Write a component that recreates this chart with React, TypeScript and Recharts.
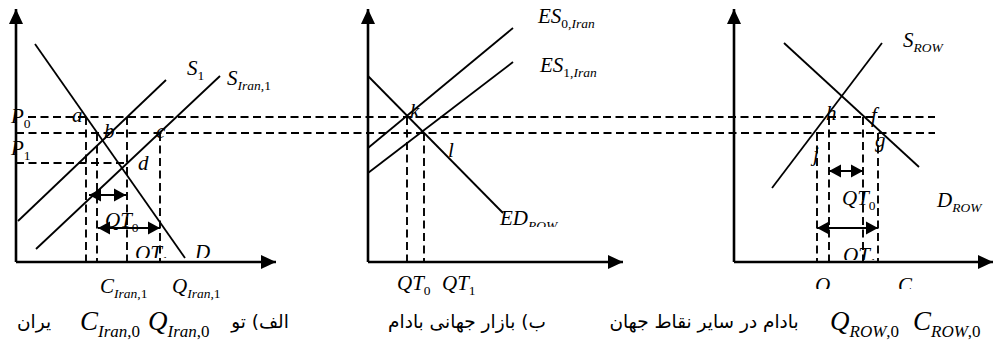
import React from 'react'
import { ComposedChart, Line, XAxis, YAxis, ReferenceDot } from 'recharts'

type Pt = { q: number; p: number }

// price levels shared by the three markets
const P0 = 72.5
const P1 = 64.5
const PD = 49.5

// a) Iran: demand and the two supply curves
const demandIran: Pt[] = [{ q: 9.5, p: 109 }, { q: 84.5, p: 2 }]
const supplyIran0: Pt[] = [{ q: 1, p: 20.5 }, { q: 75, p: 91 }]
const supplyIran1: Pt[] = [{ q: 10, p: 6.5 }, { q: 102, p: 93 }]
// C_Iran,0  C_Iran,1  Q_Iran,0  Q_Iran,1
const iranDrops: Pt[] = [{ q: 35, p: P0 }, { q: 40.5, p: P1 }, { q: 55.5, p: P0 }, { q: 72, p: P1 }]
const iranTrade = [{ from: 36.5, to: 55, p: 33.5 }, { from: 41, to: 72, p: 17 }]

// b) world market: Iran's excess supply vs. rest-of-world excess demand
const exSupply0: Pt[] = [{ q: 0, p: 57 }, { q: 72.5, p: 117 }]
const exSupply1: Pt[] = [{ q: 0, p: 44.5 }, { q: 72.5, p: 100 }]
const exDemandRow: Pt[] = [{ q: 0, p: 93 }, { q: 67.5, p: 24.5 }]
const worldDrops: Pt[] = [{ q: 19.5, p: P0 }, { q: 28, p: P1 }]

// c) rest of world
const demandRow: Pt[] = [{ q: 25, p: 109.5 }, { q: 92.5, p: 47.5 }]
const supplyRow: Pt[] = [{ q: 19, p: 37 }, { q: 74, p: 109.5 }]
const rowDrops: Pt[] = [{ q: 41.5, p: P1 }, { q: 47.5, p: P0 }, { q: 64.5, p: P0 }, { q: 72, p: P1 }]
const rowTrade = [{ from: 47.5, to: 64.5, p: 45.5 }, { from: 41.5, to: 72, p: 17 }]

const AXIS_TOP = 126.5
const axisEnds = { a: 130, b: 127.5, c: 129.5 }
const LINE_END = 459.5 // right end of the price lines, in panel-a units

const SERIF = "'Liberation Serif', 'Times New Roman', serif"
const FA = "'DejaVu Sans', sans-serif"

type Dir = 'up' | 'left' | 'right' | null

const triangle = (x: number, y: number, dir: Dir, len: number, half: number) => {
  if (dir === 'up') return `${x},${y} ${x - half},${y + len} ${x + half},${y + len}`
  if (dir === 'right') return `${x},${y} ${x - len},${y - half} ${x - len},${y + half}`
  return `${x},${y} ${x + len},${y - half} ${x + len},${y + half}`
}

const arrowDot = (heads: Dir[], len: number, half: number) => (props: any) => {
  const { cx, cy, index } = props
  const dir = heads[index]
  if (!dir || cx == null || cy == null) return <g key={`n${index}`} />
  return <polygon key={`h${index}`} points={triangle(cx, cy, dir, len, half)} fill="#000" />
}

type LabelSpec = {
  axis: 'a' | 'b' | 'c'
  q: number
  p: number
  main?: string
  sub?: string
  big?: boolean
  cut?: number
  fa?: string
}

const labels: LabelSpec[] = [
  // a)
  { axis: 'a', q: 85.5, p: 93.5, main: 'S', sub: '1' },
  { axis: 'a', q: 105.5, p: 88.5, main: 'S', sub: 'Iran,1' },
  { axis: 'a', q: -2.5, p: 69.5, main: 'P', sub: '0' },
  { axis: 'a', q: -2.5, p: 53.5, main: 'P', sub: '1' },
  { axis: 'a', q: 28, p: 70, main: 'a' },
  { axis: 'a', q: 44, p: 62, main: 'b' },
  { axis: 'a', q: 70, p: 62, main: 'c' },
  { axis: 'a', q: 61, p: 46, main: 'd' },
  { axis: 'a', q: 44.5, p: 17.5, main: 'QT', sub: '0' },
  { axis: 'a', q: 59.5, p: 1, main: 'QT', sub: '1', cut: 2 },
  { axis: 'a', q: 89.5, p: 1.5, main: 'D', cut: 1 },
  { axis: 'a', q: 42, p: -15.5, main: 'C', sub: 'Iran,1' },
  { axis: 'a', q: 78, p: -15.5, main: 'Q', sub: 'Iran,1' },
  { axis: 'a', q: 32, p: -34, main: 'C', sub: 'Iran,0', big: true },
  { axis: 'a', q: 66, p: -34, main: 'Q', sub: 'Iran,0', big: true },
  { axis: 'a', q: 122, p: -33, fa: 'الف) تو' },
  { axis: 'a', q: 9, p: -33, fa: 'یران' },
  // b)
  { axis: 'b', q: 85, p: 119.5, main: 'ES', sub: '0,Iran' },
  { axis: 'b', q: 86, p: 95, main: 'ES', sub: '1,Iran' },
  { axis: 'b', q: 21, p: 72, main: 'k' },
  { axis: 'b', q: 40, p: 52.5, main: 'l' },
  { axis: 'b', q: 66, p: 18.5, main: 'ED', sub: 'ROW', cut: -2 },
  { axis: 'b', q: 14.5, p: -14, main: 'QT', sub: '0' },
  { axis: 'b', q: 37, p: -14, main: 'QT', sub: '1' },
  { axis: 'b', q: 49.5, p: -33, fa: 'ب) بازار جهانی بادام' },
  // c)
  { axis: 'c', q: 84.5, p: 107.5, main: 'S', sub: 'ROW' },
  { axis: 'c', q: 101.5, p: 27.5, main: 'D', sub: 'ROW' },
  { axis: 'c', q: 46, p: 71, main: 'h' },
  { axis: 'c', q: 68.5, p: 70, main: 'f' },
  { axis: 'c', q: 70.5, p: 57.5, main: 'g' },
  { axis: 'c', q: 39.5, p: 50.5, main: 'j' },
  { axis: 'c', q: 54, p: 28.5, main: 'QT', sub: '0' },
  { axis: 'c', q: 54.5, p: 0, main: 'QT', sub: '1', cut: 2 },
  { axis: 'c', q: 40.5, p: -15, main: 'Q', sub: 'ROW,1', cut: 3 },
  { axis: 'c', q: 82, p: -15, main: 'C', sub: 'ROW,1', cut: 3 },
  { axis: 'c', q: 48, p: -34, main: 'Q', sub: 'ROW,0', big: true },
  { axis: 'c', q: 89.5, p: -34, main: 'C', sub: 'ROW,0', big: true },
  { axis: 'c', q: -15, p: -33, fa: 'بادام در سایر نقاط جهان' },
]

// letters in a subscript are italic, digits and commas upright
const splitRuns = (s: string) => s.match(/[A-Za-z]+|[^A-Za-z]+/g) ?? []

function MathLabel({ cx, cy, spec, id }: { cx: number; cy: number; spec: LabelSpec; id: string }) {
  if (spec.fa) {
    return (
      <text x={cx} y={cy} fontFamily={FA} fontSize={18.5} textAnchor="middle" direction="rtl" fill="#000">
        {spec.fa}
      </text>
    )
  }
  const size = spec.big ? 27 : 21
  const subSize = spec.big ? 17 : 13.5
  const dy = Math.round(size * 0.25)
  const text = (
    <text x={cx} y={cy} fontFamily={SERIF} fill="#000">
      <tspan fontStyle="italic" fontSize={size}>{spec.main}</tspan>
      {splitRuns(spec.sub ?? '').map((r, i) => (
        <tspan
          key={i}
          fontSize={subSize}
          fontStyle={/[A-Za-z]/.test(r) ? 'italic' : 'normal'}
          dy={i === 0 ? dy : undefined}
        >
          {r}
        </tspan>
      ))}
    </text>
  )
  if (spec.cut === undefined) return text
  return (
    <g>
      <defs>
        <clipPath id={id}>
          <rect x={cx - 10} y={cy - 60} width={200} height={60 - spec.cut} />
        </clipPath>
      </defs>
      <g clipPath={`url(#${id})`}>{text}</g>
    </g>
  )
}

const base = { yAxisId: 'p', dataKey: 'p', type: 'linear' as const, stroke: '#000', isAnimationActive: false, activeDot: false }

const seg = (q1: number, p1: number, q2: number, p2: number): Pt[] => [{ q: q1, p: p1 }, { q: q2, p: p2 }]

export default function App() {
  const curves: [string, Pt[]][] = [
    ['a', demandIran], ['a', supplyIran0], ['a', supplyIran1],
    ['b', exSupply0], ['b', exSupply1], ['b', exDemandRow],
    ['c', demandRow], ['c', supplyRow],
  ]
  const drops: [string, Pt][] = [
    ...iranDrops.map((d) => ['a', d] as [string, Pt]),
    ...worldDrops.map((d) => ['b', d] as [string, Pt]),
    ...rowDrops.map((d) => ['c', d] as [string, Pt]),
  ]
  const trades = [
    ...iranTrade.map((t) => ['a', t] as const),
    ...rowTrade.map((t) => ['c', t] as const),
  ]
  const dash = '8 4.5'

  return (
    <div style={{ position: 'absolute', left: 0, top: 0, width: 994, height: 342, background: '#fff' }}>
      <ComposedChart width={994} height={342} margin={{ top: 0, right: 0, bottom: 0, left: 0 }}>
        <XAxis xAxisId="a" dataKey="q" type="number" domain={[-8, 489]} allowDataOverflow hide />
        <XAxis xAxisId="b" dataKey="q" type="number" domain={[-184, 313]} allowDataOverflow hide />
        <XAxis xAxisId="c" dataKey="q" type="number" domain={[-367, 130]} allowDataOverflow hide />
        <YAxis yAxisId="p" type="number" domain={[-40, 131]} allowDataOverflow hide />

        {/* price lines running through all three panels */}
        <Line key="p0" {...base} xAxisId="a" data={seg(6, P0, LINE_END, P0)} strokeWidth={1.9} strokeDasharray={dash} dot={false} />
        <Line key="p1" {...base} xAxisId="a" data={seg(0, P1, LINE_END, P1)} strokeWidth={1.9} strokeDasharray={dash} dot={false} />
        <Line key="pd" {...base} xAxisId="a" data={seg(0, PD, iranDrops[2].q, PD)} strokeWidth={1.9} strokeDasharray={dash} dot={false} />

        {drops.map(([ax, d], i) => (
          <Line key={`drop${i}`} {...base} xAxisId={ax} data={seg(d.q, d.p, d.q, 0)} strokeWidth={1.9} strokeDasharray={dash} dot={false} />
        ))}

        {curves.map(([ax, c], i) => (
          <Line key={`curve${i}`} {...base} xAxisId={ax} data={c} strokeWidth={1.8} dot={false} />
        ))}

        {trades.map(([ax, t], i) => (
          <Line
            key={`trade${i}`}
            {...base}
            xAxisId={ax}
            data={seg(t.from, t.p, t.to, t.p)}
            strokeWidth={2.2}
            dot={arrowDot(['left', 'right'], 12, 6.5)}
          />
        ))}

        {(['a', 'b', 'c'] as const).map((ax) => (
          <Line key={`y${ax}`} {...base} xAxisId={ax} data={seg(0, 0, 0, AXIS_TOP)} strokeWidth={2.6} dot={arrowDot([null, 'up'], 15, 7)} />
        ))}
        {(['a', 'b', 'c'] as const).map((ax) => (
          <Line key={`x${ax}`} {...base} xAxisId={ax} data={seg(0, 0, axisEnds[ax], 0)} strokeWidth={2.6} dot={arrowDot([null, 'right'], 15, 7)} />
        ))}

        {labels.map((l, i) => (
          <ReferenceDot
            key={`lab${i}`}
            xAxisId={l.axis}
            yAxisId="p"
            x={l.q}
            y={l.p}
            r={0}
            ifOverflow="visible"
            shape={(props: any) => <MathLabel cx={props.cx} cy={props.cy} spec={l} id={`cut${i}`} />}
          />
        ))}
      </ComposedChart>
    </div>
  )
}
